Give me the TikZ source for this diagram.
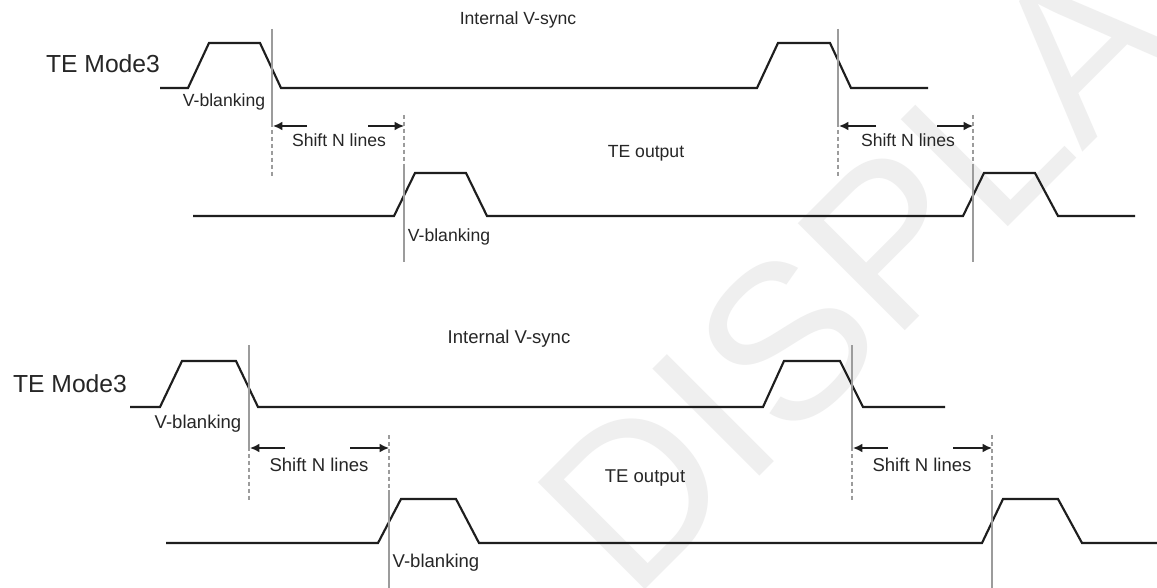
\documentclass[tikz,border=0pt]{standalone}
\usepackage{fontspec}
\setmainfont{Liberation Sans}
\usetikzlibrary{arrows.meta}
\definecolor{ink}{HTML}{1E1E1E}
\definecolor{txt}{HTML}{262626}
\definecolor{guidec}{HTML}{9C9C9C}
\definecolor{wmc}{HTML}{EFEFEF}
\begin{document}
\begin{tikzpicture}[x=0.75pt,y=-0.75pt,
  wave/.style={draw=ink, line width=1.6pt, line join=miter},
  guide/.style={draw=guidec, line width=1.1pt},
  guidedash/.style={draw=guidec, line width=1.1pt, dash pattern=on 3pt off 2.2pt},
  shiftarrow/.style={draw=ink, line width=1.1pt, -{Latex[length=7pt,width=6.5pt]}},
  lbl/.style={text=txt, font=\fontsize{13.2}{15}\selectfont, inner sep=0pt, anchor=base},
  lblb/.style={lbl, font=\fontsize{13.9}{16}\selectfont},
  titlelbl/.style={text=txt, font=\fontsize{18.5}{21}\selectfont, inner sep=0pt, anchor=base}]
\useasboundingbox (0,0) rectangle (1157,588);
\fill[white] (0,0) rectangle (1157,588);
% watermark
\begin{scope}
\clip (0,0) rectangle (1157,588);
\node[text=wmc, font=\fontsize{165}{165}\selectfont, rotate=45, inner sep=0pt] (wmark) at (902,226) {DISPLAY};
\end{scope}

% ===== top diagram =====
\node[lbl] (ivs1) at (518,25) {Internal V-sync};
\node[titlelbl] (mode1) at (103,73) {TE Mode3};
\node[lbl] (vb1) at (224,107) {V-blanking};
\node[lbl] (sh1) at (339,147) {Shift N lines};
\node[lbl] (sh2) at (908,147) {Shift N lines};
\node[lbl] (teo1) at (646,158) {TE output};
\node[lbl] (vb2) at (449,242) {V-blanking};

\draw[wave] (160,88) -- (188,88) -- (209,43) -- (260,43) -- (281,88) -- (757,88) -- (778,43) -- (830,43) -- (851,88) -- (928,88);
\draw[wave] (193,216) -- (394,216) -- (415,173) -- (466,173) -- (487,216) -- (963,216) -- (984,173) -- (1035,173) -- (1058,216) -- (1135,216);

\coordinate (g1a) at (272,29);  \coordinate (g1b) at (272,123); \coordinate (g1c) at (272,176);
\coordinate (d1a) at (404,115); \coordinate (d1b) at (404,168); \coordinate (d1c) at (404,262);
\coordinate (g2a) at (838,29);  \coordinate (g2b) at (838,123); \coordinate (g2c) at (838,176);
\coordinate (d2a) at (973,115); \coordinate (d2b) at (973,168); \coordinate (d2c) at (973,262);
\draw[guide] (g1a) -- (g1b); \draw[guidedash] (g1b) -- (g1c);
\draw[guidedash] (d1a) -- (d1b); \draw[guide] (d1b) -- (d1c);
\draw[guide] (g2a) -- (g2b); \draw[guidedash] (g2b) -- (g2c);
\draw[guidedash] (d2a) -- (d2b); \draw[guide] (d2b) -- (d2c);

\coordinate (a1t) at (307,126); \coordinate (a1h) at (273,126);
\coordinate (a2t) at (368,126); \coordinate (a2h) at (404,126);
\coordinate (a3t) at (876,126); \coordinate (a3h) at (839,126);
\coordinate (a4t) at (937,126); \coordinate (a4h) at (973,126);
\draw[shiftarrow] (a1t) -- (a1h);
\draw[shiftarrow] (a2t) -- (a2h);
\draw[shiftarrow] (a3t) -- (a3h);
\draw[shiftarrow] (a4t) -- (a4h);

% ===== bottom diagram =====
\node[lblb] (ivs2) at (509,343) {Internal V-sync};
\node[titlelbl] (mode2) at (70,392) {TE Mode3};
\node[lblb] (vb3) at (198,428) {V-blanking};
\node[lblb] (sh3) at (319,471) {Shift N lines};
\node[lblb] (sh4) at (922,471) {Shift N lines};
\node[lblb] (teo2) at (645,482) {TE output};
\node[lblb] (vb4) at (436,567) {V-blanking};

\draw[wave] (130,407) -- (160,407) -- (182,361) -- (236,361) -- (258,407) -- (763,407) -- (784,361) -- (840,361) -- (863,407) -- (945,407);
\draw[wave] (166,543) -- (378,543) -- (401,499) -- (456,499) -- (479,543) -- (982,543) -- (1003,499) -- (1058,499) -- (1082,543) -- (1157,543);

\coordinate (g3a) at (249,345); \coordinate (g3b) at (249,447); \coordinate (g3c) at (249,500);
\coordinate (d3a) at (389,435); \coordinate (d3b) at (389,490); \coordinate (d3c) at (389,588);
\coordinate (g4a) at (852,345); \coordinate (g4b) at (852,447); \coordinate (g4c) at (852,500);
\coordinate (d4a) at (992,435); \coordinate (d4b) at (992,490); \coordinate (d4c) at (992,588);
\draw[guide] (g3a) -- (g3b); \draw[guidedash] (g3b) -- (g3c);
\draw[guidedash] (d3a) -- (d3b); \draw[guide] (d3b) -- (d3c);
\draw[guide] (g4a) -- (g4b); \draw[guidedash] (g4b) -- (g4c);
\draw[guidedash] (d4a) -- (d4b); \draw[guide] (d4b) -- (d4c);

\coordinate (a5t) at (285,448); \coordinate (a5h) at (250,448);
\coordinate (a6t) at (350,448); \coordinate (a6h) at (389,448);
\coordinate (a7t) at (888,448); \coordinate (a7h) at (853,448);
\coordinate (a8t) at (953,448); \coordinate (a8h) at (992,448);
\draw[shiftarrow] (a5t) -- (a5h);
\draw[shiftarrow] (a6t) -- (a6h);
\draw[shiftarrow] (a7t) -- (a7h);
\draw[shiftarrow] (a8t) -- (a8h);
\end{tikzpicture}
\end{document}
